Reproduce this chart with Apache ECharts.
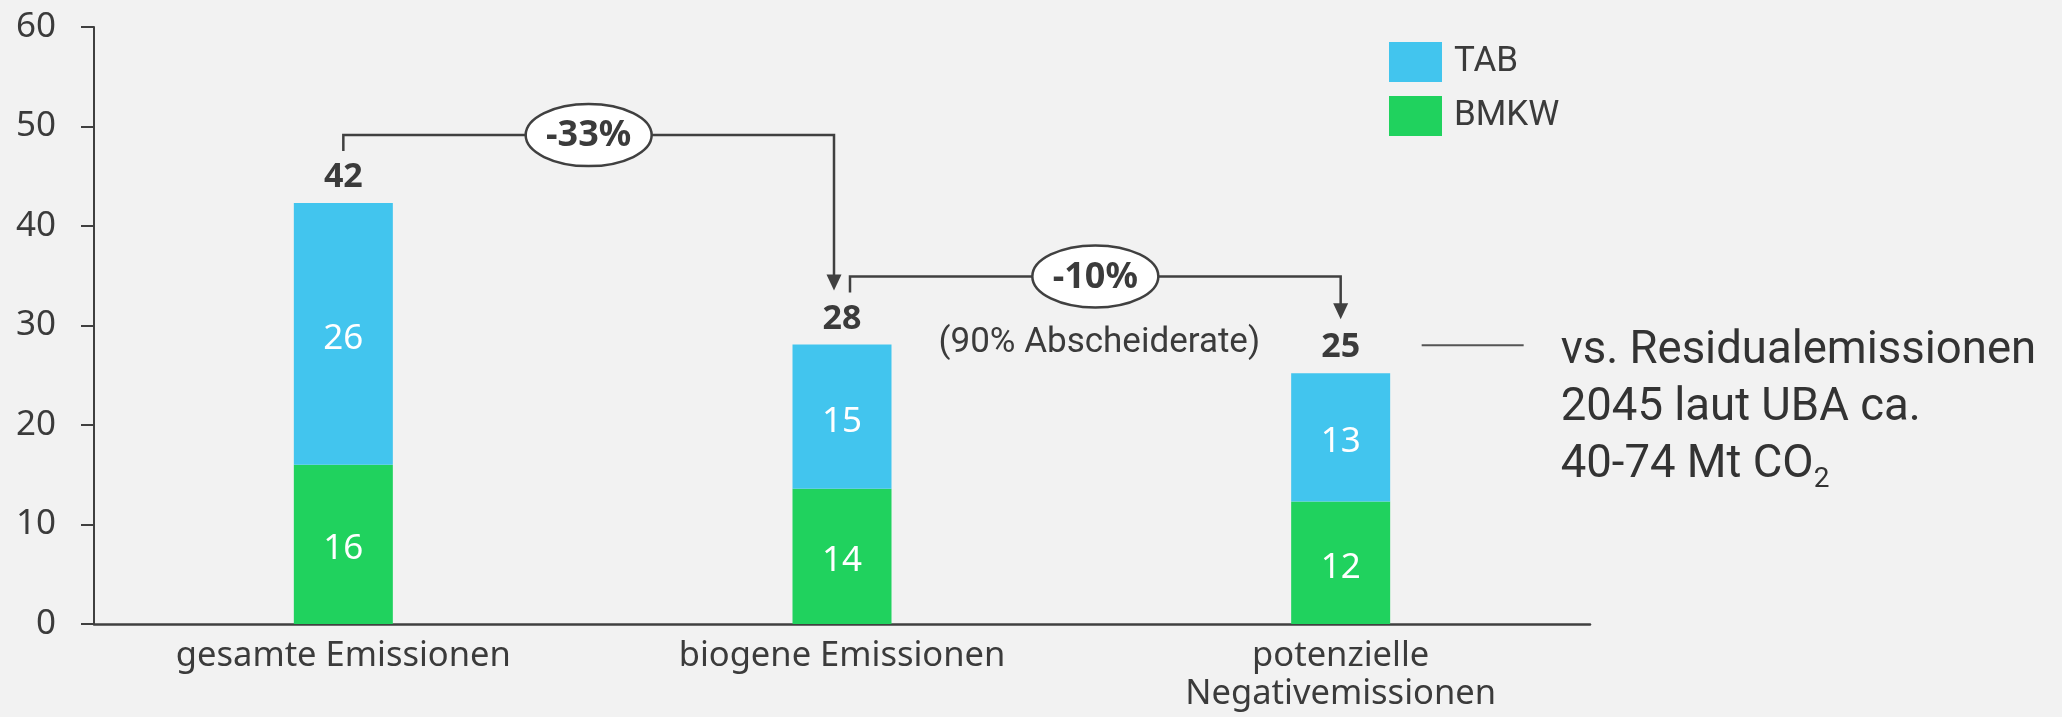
<!DOCTYPE html>
<html>
<head>
<meta charset="utf-8">
<script src="https://cdn.jsdelivr.net/npm/echarts@6/dist/echarts.min.js"></script>
<style>
html,body{margin:0;padding:0;background:#f2f2f2;}
#c{width:2062px;height:717px;}
</style>
</head>
<body>
<div id="c"></div>
<script>
// ---- data ----
const categories = ['gesamte Emissionen', 'biogene Emissionen', 'potenzielle\nNegativemissionen'];
const seriesNames = ['TAB', 'BMKW'];
const bmkw = [16.0, 13.6, 12.3];
const tab = [26.3, 14.5, 12.9];
const yTicks = [0, 10, 20, 30, 40, 50, 60];
const changeLabels = ['-33%', '-10%'];
const changeNotes = ['', '(90% Abscheiderate)'];
const sideNoteLines = ['vs. Residualemissionen', '2045 laut UBA ca.', '40-74 Mt CO'];
const sideNoteSub = '2';

const totals = bmkw.map((v, i) => v + tab[i]);

const TXT = '#3b3b3b';
const AXIS = '#404040';
const SANS = '"Noto Sans", "Open Sans", sans-serif';
const COND = 'Roboto, "Noto Sans", sans-serif';

const chart = echarts.init(document.getElementById('c'), null, {renderer: 'canvas', width: 2062, height: 717});

const option = {
  backgroundColor: '#f2f2f2',
  animation: false,
  grid: {left: 94, right: 472, top: 27, bottom: 93, containLabel: false},
  legend: {
    data: seriesNames,
    orient: 'vertical',
    left: 1389,
    top: 42,
    padding: 0,
    itemWidth: 53,
    itemHeight: 40,
    itemGap: 14,
    icon: 'rect',
    selectedMode: false,
    textStyle: {fontFamily: COND, fontSize: 35, color: TXT, padding: [0, 0, 0, 7]}
  },
  xAxis: {
    type: 'category',
    data: categories,
    axisTick: {show: false},
    axisLine: {lineStyle: {color: AXIS, width: 2.5}},
    axisLabel: {fontFamily: SANS, fontSize: 34.5, color: TXT, lineHeight: 38, margin: 13, interval: 0}
  },
  yAxis: {
    type: 'value',
    min: yTicks[0],
    max: yTicks[yTicks.length - 1],
    interval: yTicks[1] - yTicks[0],
    splitLine: {show: false},
    axisLine: {show: true, lineStyle: {color: AXIS, width: 2}},
    axisTick: {show: true, length: 13, lineStyle: {color: AXIS, width: 2}},
    axisLabel: {fontFamily: SANS, fontSize: 35, color: TXT, margin: 38}
  },
  series: [
    {
      name: 'BMKW', type: 'bar', stack: 'total', data: bmkw, barWidth: 99,
      itemStyle: {color: '#20D25E'}, silent: true,
      label: {show: true, position: 'inside', offset: [0, 5], color: '#ffffff', fontFamily: SANS, fontSize: 35,
        formatter: p => Math.round(p.value)}
    },
    {
      name: 'TAB', type: 'bar', stack: 'total', data: tab, barWidth: 99,
      itemStyle: {color: '#42C5EE'}, silent: true,
      label: {show: true, position: 'inside', offset: [0, 5], color: '#ffffff', fontFamily: SANS, fontSize: 35,
        formatter: p => Math.round(p.value)}
    },
    {
      name: 'Summe', type: 'line', data: totals, symbol: 'circle', symbolSize: 1,
      itemStyle: {color: 'rgba(0,0,0,0)'}, lineStyle: {width: 0, opacity: 0}, silent: true,
      label: {show: true, position: 'top', distance: 8, color: TXT, fontFamily: SANS, fontSize: 34,
        fontWeight: 'bold', formatter: p => Math.round(p.value)}
    }
  ]
};
chart.setOption(option);

// ---- annotations positioned through the axes ----
const px = (i, v) => chart.convertToPixel({xAxisIndex: 0, yAxisIndex: 0}, [i, v]);
const tops = totals.map((t, i) => px(i, t));
const graphics = [];
const n = totals.length;
for (let k = 0; k < changeLabels.length; k++) {
  const i = k, j = k + 1;
  const xs = tops[i][0] + (i > 0 ? 8 : 0);
  const xe = tops[j][0] - (j < n - 1 ? 8 : 0);
  const ys = tops[i][1] - 52;
  const yl = tops[i][1] - 68;
  const ye = tops[j][1] - 54;
  graphics.push({type: 'polyline', z: 10, shape: {points: [[xs, ys], [xs, yl], [xe, yl], [xe, ye - 14]]},
    style: {stroke: AXIS, lineWidth: 2.5, fill: null}});
  graphics.push({type: 'polygon', z: 10, shape: {points: [[xe - 7.5, ye - 16], [xe + 7.5, ye - 16], [xe, ye]]},
    style: {fill: AXIS}});
  const mx = (xs + xe) / 2;
  graphics.push({type: 'ellipse', z: 11, shape: {cx: mx, cy: yl, rx: 63, ry: 31},
    style: {fill: '#ffffff', stroke: AXIS, lineWidth: 2.5}});
  graphics.push({type: 'text', z: 12, x: mx, y: yl + 1,
    style: {text: changeLabels[k], fill: TXT, fontFamily: SANS, fontSize: 36, fontWeight: 'bold',
      align: 'center', verticalAlign: 'middle'}});
  if (changeNotes[k]) {
    graphics.push({type: 'text', z: 12, x: mx + 4, y: yl + 67,
      style: {text: changeNotes[k], fill: TXT, fontFamily: COND, fontSize: 35,
        align: 'center', verticalAlign: 'middle'}});
  }
}
// side note next to last bar
const last = tops[n - 1];
const ly = last[1] - 28;
graphics.push({type: 'line', z: 10, shape: {x1: last[0] + 81, y1: ly, x2: last[0] + 183, y2: ly},
  style: {stroke: '#555555', lineWidth: 2}});
const richText = sideNoteLines.slice(0, -1).map(s => '{a|' + s + '}').join('\n') +
  '\n{a|' + sideNoteLines[sideNoteLines.length - 1] + '}{s|' + sideNoteSub + '}';
graphics.push({type: 'text', z: 12, x: last[0] + 220, y: ly - 22,
  style: {text: richText, align: 'left', verticalAlign: 'top',
    rich: {
      a: {fontFamily: COND, fontSize: 45.5, lineHeight: 57, fill: '#333333', color: '#333333'},
      s: {fontFamily: COND, fontSize: 28, fill: '#333333', color: '#333333', verticalAlign: 'bottom'}
    }}});
chart.setOption({graphic: graphics});
</script>
</body>
</html>
